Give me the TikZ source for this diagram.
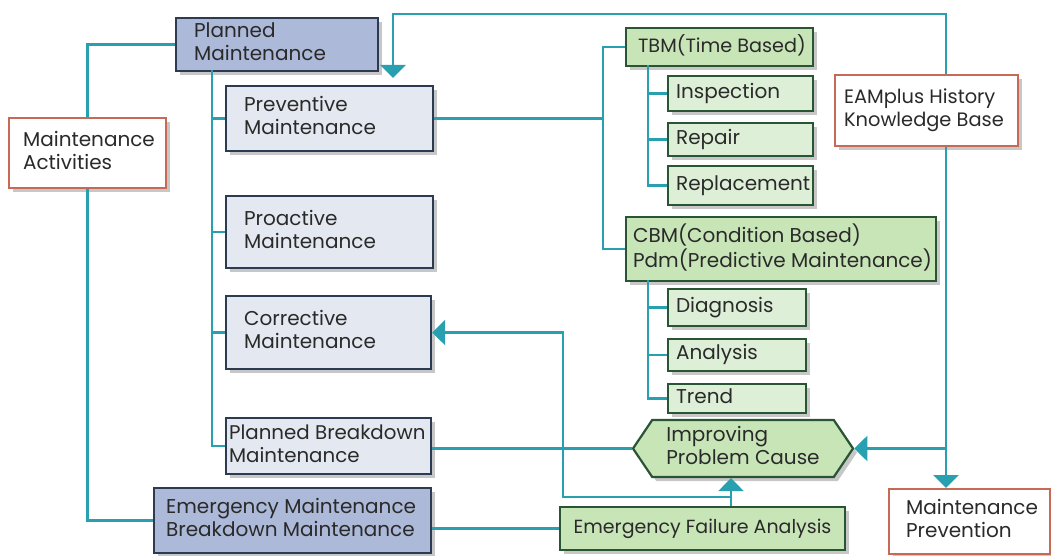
\documentclass[tikz,border=0pt]{standalone}
\usepackage{fontspec}
\setmainfont{Poppins}
\usetikzlibrary{arrows.meta,shadows,shapes.symbols}
\definecolor{teal1}{RGB}{40,160,175}
\definecolor{bluefill}{RGB}{172,185,216}
\definecolor{lightfill}{RGB}{228,233,241}
\definecolor{blueborder}{RGB}{45,59,82}
\definecolor{greenfill}{RGB}{200,229,184}
\definecolor{greenlight}{RGB}{222,239,216}
\definecolor{greenborder}{RGB}{42,85,53}
\definecolor{redborder}{RGB}{199,106,85}
\definecolor{txt}{RGB}{42,42,42}
\tikzset{
  fs/.style={font=\fontsize{#1}{11.5}\selectfont},
  base/.style={draw, line width=1.1pt, inner ysep=0pt, align=left, text=txt, fs=10,
    drop shadow={shadow xshift=2pt, shadow yshift=-2pt, opacity=0.22, fill=black}},
  bluebox/.style={base, fill=bluefill, draw=blueborder},
  lightbox/.style={base, fill=lightfill, draw=blueborder},
  greenbox/.style={base, fill=greenfill, draw=greenborder},
  greensub/.style={base, fill=greenlight, draw=greenborder},
  redbox/.style={base, fill=white, draw=redborder},
  conn/.style={draw=teal1, line width=1.3pt},
  arr/.style={conn, -{Triangle[width=12.5pt,length=6.5pt]}}
}
\newcommand{\mybox}[8]{%
  \pgfmathsetmacro\bw{(#5-#3)*0.5-2*#7}%
  \pgfmathsetmacro\bh{(#6-#4)*0.5}%
  \node[#2, anchor=north west, inner xsep=#7pt, minimum height=\bh pt] (#1) at (#3,#4)
    {\makebox[\bw pt][l]{\begin{tabular}{@{}l@{}}#8\end{tabular}}};}
\begin{document}
\begin{tikzpicture}[x=0.5pt,y=-0.5pt]
\useasboundingbox (0,0) rectangle (1051,556);
% boxes
\mybox{P}{bluebox}{175}{17}{377}{70}{9}{Planned\\Maintenance}
\mybox{MA}{redbox}{8}{117}{165}{187}{7}{Maintenance\\Activities}
\mybox{PV}{lightbox}{225}{85}{432}{150}{9}{Preventive\\Maintenance}
\mybox{PA}{lightbox}{225}{195}{432}{267}{9}{Proactive\\Maintenance}
\mybox{CR}{lightbox}{225}{295}{430}{368}{9}{Corrective\\Maintenance}
\mybox{PB}{lightbox, fs=9.9}{225}{417}{430}{473}{1.5}{Planned Breakdown\\Maintenance}
\mybox{EM}{bluebox}{153}{487}{430}{552}{6}{Emergency Maintenance\\Breakdown Maintenance}
\mybox{TBM}{greenbox, fs=9.6}{625}{27}{812}{65}{6}{TBM(Time Based)}
\mybox{INS}{greensub}{667}{75}{812}{110}{4}{Inspection}
\mybox{REP}{greensub}{667}{122}{812}{155}{4}{Repair}
\mybox{RPL}{greensub}{667}{165}{812}{204}{4}{Replacement}
\mybox{CBM}{greenbox, fs=10}{625}{216}{935}{280}{3.5}{CBM(Condition Based)\\Pdm(Predictive Maintenance)}
\mybox{DIA}{greensub}{667}{288}{805}{325}{4}{Diagnosis}
\mybox{ANA}{greensub}{667}{338}{805}{370}{4}{Analysis}
\mybox{TRE}{greensub}{667}{383}{805}{412}{4}{Trend}
\mybox{EK}{redbox, fs=9.7}{834}{74}{1017}{145}{4.5}{EAMplus History\\Knowledge Base}
\mybox{MP}{redbox}{888}{488}{1049}{553}{8.5}{Maintenance\\Prevention}
\node[greenbox, fs=9.5, align=center, minimum width=142.5pt, minimum height=21.5pt, inner xsep=0pt] (EFA) at (702.5,528.5) {Emergency Failure Analysis};
\node[greenbox, fs=10, signal, signal to=west and east, signal pointer angle=112, minimum width=110pt, minimum height=28.5pt, inner xsep=0pt] (HX) at (743,448.5) {\begin{tabular}{@{}l@{}}Improving\\Problem Cause\end{tabular}};
% coordinates
\coordinate (t0) at (212,70);
\coordinate (b1) at (603,117);
\coordinate (s1) at (648,65);
\coordinate (s2) at (648,280);
\coordinate (rtop) at (946,14);
\coordinate (ltop) at (393,14);
\coordinate (vx) at (731,497);
\coordinate (k1) at (563,497);
% connectors
\draw[conn] (P.west) -| (MA.north);
\draw[conn] (MA.south) |- (EM.west);
\draw[conn] (t0) |- (PB.west);
\draw[conn] (t0 |- PV.west) -- (PV.west);
\draw[conn] (t0 |- PA.west) -- (PA.west);
\draw[conn] (t0 |- CR.west) -- (CR.west);
\draw[conn] (PV.east) -- (PV.east -| b1);
\draw[conn] (TBM.west) -- (TBM.west -| b1) -- (CBM.west -| b1) -- (CBM.west);
\draw[conn] (s1) |- (RPL.west);
\draw[conn] (s1 |- INS.west) -- (INS.west);
\draw[conn] (s1 |- REP.west) -- (REP.west);
\draw[conn] (s2) |- (TRE.west);
\draw[conn] (s2 |- DIA.west) -- (DIA.west);
\draw[conn] (s2 |- ANA.west) -- (ANA.west);
\draw[arr, shorten >=3.5pt] (EK.north -| rtop) -- (rtop) -- (ltop) -- (ltop |- PV.north);
\draw[arr] (EK.south -| rtop) -- (rtop |- MP.north);
\draw[arr] (rtop |- HX.east) -- (HX.east);
\draw[conn] (PB.east |- HX.west) -- (HX.west);
\draw[conn] (EM.east |- EFA.west) -- (EFA.west);
\draw[arr] (EFA.north -| vx) -- (HX.south -| vx);
\draw[arr] (vx) -- (k1) |- (CR.east);
\end{tikzpicture}
\end{document}
